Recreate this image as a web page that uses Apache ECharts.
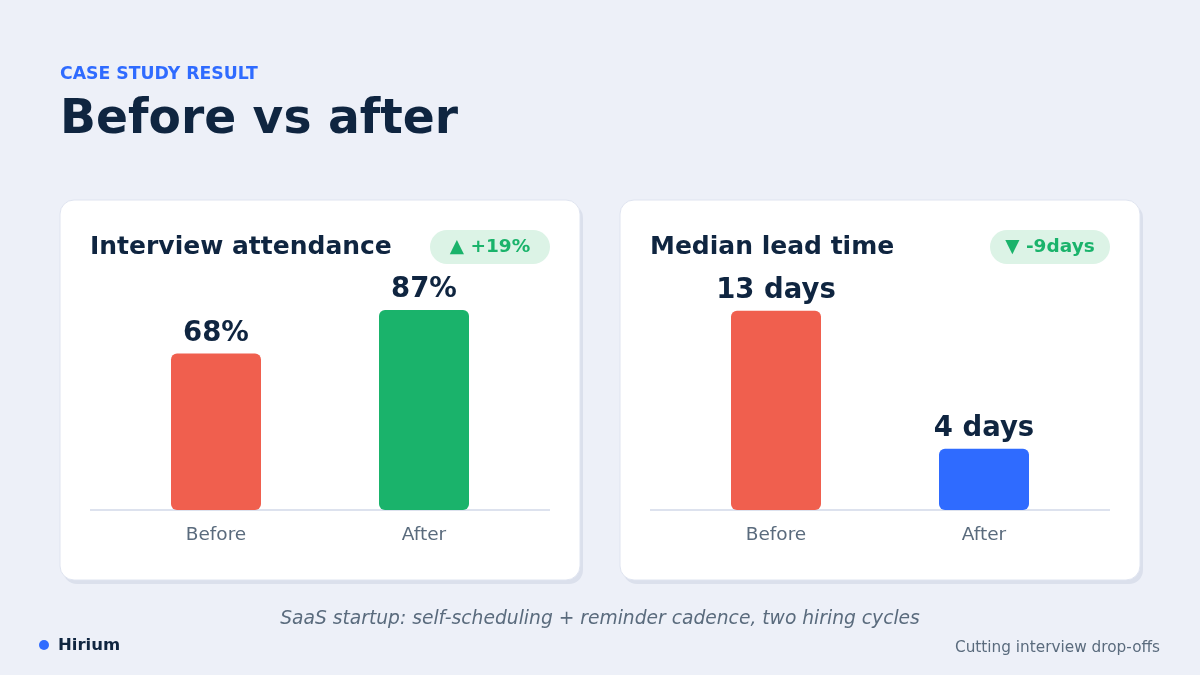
<!DOCTYPE html>
<html><head><meta charset="utf-8">
<script src="https://cdn.jsdelivr.net/npm/echarts@6/dist/echarts.min.js"></script>
<style>html,body{margin:0;padding:0;background:#edf0f8;}#c{width:1200px;height:675px;}</style>
</head><body><div id="c"></div>
<script>
const categories = ['Before', 'After'];
const attendanceValues = [68, 87];
const attendanceLabels = ['68%', '87%'];
const leadTimeValues = [13, 4];
const leadTimeLabels = ['13 days', '4 days'];
const attendanceColors = ['#f05f4e', '#1ab36b'];
const leadTimeColors = ['#f05f4e', '#2f6bff'];
const attendanceMax = 100;
const leadTimeMax = 15;

const FONT = '"DejaVu Sans", sans-serif';
const NAVY = '#0f2540';
const GREY = '#5a6b7d';

const chart = echarts.init(document.getElementById('c'), null, {renderer: 'canvas'});

function card(x) {
  return [
    {type: 'rect', z: 0, shape: {x: x + 3, y: 204, width: 520, height: 380, r: 14}, style: {fill: '#dbe0ec'}},
    {type: 'rect', z: 1, shape: {x: x, y: 200, width: 520, height: 380, r: 14}, style: {fill: '#ffffff', stroke: '#dfe4f0', lineWidth: 1}},
    {type: 'line', z: 2, shape: {x1: x + 30, y1: 510, x2: x + 490, y2: 510}, style: {stroke: '#dde2ee', lineWidth: 2}}
  ];
}
function badge(x, text) {
  return [
    {type: 'rect', z: 3, shape: {x: x, y: 230, width: 120, height: 34, r: 17}, style: {fill: '#dcf3e6'}},
    {type: 'text', z: 4, x: x + 60, y: 247.5, style: {text: text, fill: '#1ab36b', font: 'bold 18.5px ' + FONT, align: 'center', verticalAlign: 'middle'}}
  ];
}

const graphics = [].concat(
  card(60), card(620),
  badge(430, '▲ +19%'), badge(990, '▼ -9days'),
  [
    {type: 'text', z: 4, x: 60, y: 75, style: {text: 'CASE STUDY RESULT', fill: '#2f6bff', font: 'bold 17.3px ' + FONT, verticalAlign: 'middle'}},
    {type: 'text', z: 4, x: 60, y: 120.5, style: {text: 'Before vs after', fill: NAVY, font: 'bold 47.2px ' + FONT, verticalAlign: 'middle'}},
    {type: 'text', z: 4, x: 90, y: 247, style: {text: 'Interview attendance', fill: NAVY, font: 'bold 25px ' + FONT, verticalAlign: 'middle'}},
    {type: 'text', z: 4, x: 650, y: 247, style: {text: 'Median lead time', fill: NAVY, font: 'bold 25px ' + FONT, verticalAlign: 'middle'}},
    {type: 'text', z: 4, x: 600, y: 619, style: {text: 'SaaS startup: self-scheduling + reminder cadence, two hiring cycles', fill: GREY, font: 'italic 18.7px ' + FONT, align: 'center', verticalAlign: 'middle'}},
    {type: 'circle', z: 4, shape: {cx: 44, cy: 645, r: 5}, style: {fill: '#2f6bff'}},
    {type: 'text', z: 4, x: 58, y: 645.5, style: {text: 'Hirium', fill: NAVY, font: 'bold 16.5px ' + FONT, verticalAlign: 'middle'}},
    {type: 'text', z: 4, x: 1160, y: 648.5, style: {text: 'Cutting interview drop-offs', fill: GREY, font: '15.3px ' + FONT, align: 'right', verticalAlign: 'middle'}}
  ]
);

function xAx(i) {
  return {type: 'category', gridIndex: i, data: categories, z: 10,
    axisLine: {show: false}, axisTick: {show: false}, splitLine: {show: false},
    axisLabel: {color: GREY, fontSize: 18.5, fontFamily: FONT, margin: 16}};
}
function yAx(i, max) {
  return {type: 'value', gridIndex: i, min: 0, max: max, show: false, splitLine: {show: false}};
}
function barSeries(i, values, labels, colors) {
  return {type: 'bar', xAxisIndex: i, yAxisIndex: i, barWidth: 90, z: 5,
    data: values.map((v, k) => ({value: v, itemStyle: {color: colors[k], borderRadius: 6},
      label: {formatter: labels[k]}})),
    label: {show: true, position: 'top', distance: 6, color: NAVY, fontSize: 27.5, fontWeight: 'bold', fontFamily: FONT},
    emphasis: {disabled: true}};
}

chart.setOption({
  backgroundColor: '#edf0f8',
  animation: false,
  textStyle: {fontFamily: FONT},
  graphic: {elements: graphics},
  grid: [
    {left: 112, width: 416, top: 280, height: 230},
    {left: 672, width: 416, top: 280, height: 230}
  ],
  xAxis: [xAx(0), xAx(1)],
  yAxis: [yAx(0, attendanceMax), yAx(1, leadTimeMax)],
  series: [
    barSeries(0, attendanceValues, attendanceLabels, attendanceColors),
    barSeries(1, leadTimeValues, leadTimeLabels, leadTimeColors)
  ]
});
</script></body></html>
